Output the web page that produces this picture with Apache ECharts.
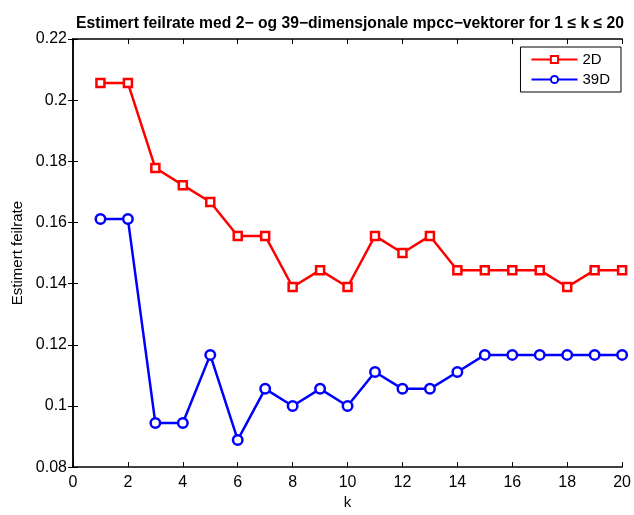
<!DOCTYPE html>
<html>
<head>
<meta charset="utf-8">
<script src="https://cdn.jsdelivr.net/npm/echarts@6/dist/echarts.min.js"></script>
<style>html,body{margin:0;padding:0;background:#fff}#c{width:634px;height:515px}</style>
</head>
<body>
<div id="c"></div>
<script>
var kValues = [1,2,3,4,5,6,7,8,9,10,11,12,13,14,15,16,17,18,19,20];
var err2D = [0.2056,0.2056,0.1778,0.1722,0.1667,0.1556,0.1556,0.1389,0.1444,0.1389,0.1556,0.1500,0.1556,0.1444,0.1444,0.1444,0.1444,0.1389,0.1444,0.1444];
var err39D = [0.1611,0.1611,0.0944,0.0944,0.1167,0.0889,0.1056,0.1000,0.1056,0.1000,0.1111,0.1056,0.1056,0.1111,0.1167,0.1167,0.1167,0.1167,0.1167,0.1167];
var seriesNames = ['2D','39D'];
var titleText = 'Estimert feilrate med 2\u2212 og 39\u2212dimensjonale mpcc\u2212vektorer for 1 \u2264 k \u2264 20';

function pairs(xs, ys){ return xs.map(function(x,i){ return [x, ys[i]]; }); }

var font = 'Liberation Sans, Arial, Helvetica, sans-serif';
var chart = echarts.init(document.getElementById('c'), null, {renderer:'canvas'});
var axisLine = {show:true, lineStyle:{color:'#000', width:1.5}};
var tick = {show:true, inside:true, length:5, lineStyle:{color:'#000', width:1}};
chart.setOption({
  animation:false,
  backgroundColor:'#fff',
  title:{text:titleText, left:345, textAlign:'center', top:11,
    textStyle:{fontFamily:font, fontSize:15.7, fontWeight:'bold', color:'#000'}},
  legend:{
    data:seriesNames, orient:'vertical', right:13, top:47,
    itemWidth:46, itemHeight:9, itemGap:5,
    padding:[5,11,5,10], borderColor:'#000', borderWidth:1, backgroundColor:'#fff',
    textStyle:{fontFamily:font, fontSize:15, color:'#000'}
  },
  grid:{left:73, right:6, top:39, bottom:38.5, containLabel:false},
  xAxis:[
    {type:'value', min:0, max:20, interval:2, position:'bottom',
     name:'k', nameLocation:'middle', nameGap:25,
     nameTextStyle:{fontFamily:font, fontSize:15, color:'#000'},
     axisLine:axisLine, axisTick:tick, splitLine:{show:false},
     axisLabel:{fontFamily:font, fontSize:16, color:'#000', margin:7}},
    {type:'value', min:0, max:20, interval:2, position:'top',
     axisLine:axisLine, axisTick:tick, splitLine:{show:false}, axisLabel:{show:false}}
  ],
  yAxis:[
    {type:'value', min:0.08, max:0.22, interval:0.02, position:'left',
     name:'Estimert feilrate', nameLocation:'middle', nameGap:45, nameRotate:90,
     nameTextStyle:{fontFamily:font, fontSize:15, color:'#000'},
     axisLine:axisLine, axisTick:tick, splitLine:{show:false},
     axisLabel:{fontFamily:font, fontSize:16, color:'#000', margin:6,
       formatter:function(v){ return String(+v.toFixed(2)); }}},
    {type:'value', min:0.08, max:0.22, interval:0.02, position:'right',
     axisLine:axisLine, axisTick:tick, splitLine:{show:false}, axisLabel:{show:false}}
  ],
  series:[
    {name:seriesNames[0], type:'line', data:pairs(kValues, err2D),
     symbol:'rect', symbolSize:8, showAllSymbol:true,
     lineStyle:{color:'#ff0000', width:2.5}, itemStyle:{color:'#fff', borderColor:'#ff0000', borderWidth:2.5}},
    {name:seriesNames[1], type:'line', data:pairs(kValues, err39D),
     symbol:'circle', symbolSize:9.5, showAllSymbol:true,
     lineStyle:{color:'#0000ff', width:2.5}, itemStyle:{color:'#fff', borderColor:'#0000ff', borderWidth:2.5}}
  ]
});
</script>
</body>
</html>
